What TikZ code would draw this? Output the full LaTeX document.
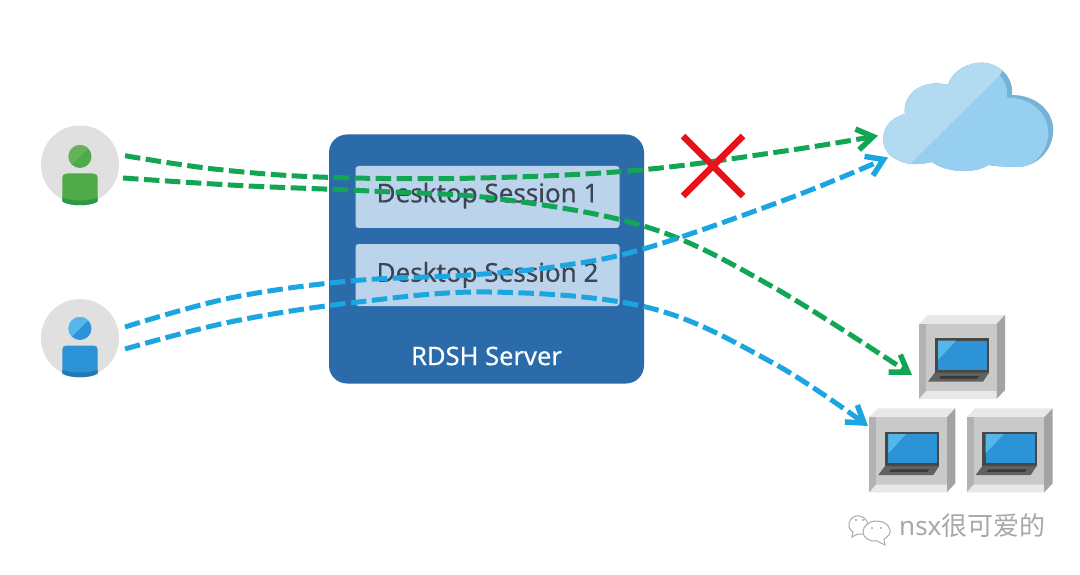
\documentclass[tikz,border=0pt]{standalone}
\usepackage{fontspec}
\setmainfont{Noto Sans}
\newfontfamily\cjkfont{Noto Sans CJK SC}
\newfontfamily\labelfont[FakeBold=0.35]{Noto Sans}
\usetikzlibrary{arrows.meta}
\definecolor{gline}{HTML}{12A554}
\definecolor{bline}{HTML}{1BA6E2}
\definecolor{serverblue}{HTML}{2B6BAA}
\definecolor{sessionblue}{HTML}{BCD3EC}
\definecolor{labeltext}{HTML}{3B4654}
\definecolor{xred}{HTML}{E8121C}
\definecolor{cloudlight}{HTML}{B2DAF0}
\definecolor{cloudmain}{HTML}{96CFEF}
\definecolor{cloudedge}{HTML}{74B2D8}
\definecolor{pcscreen}{HTML}{2B93D6}
\definecolor{pcshine}{HTML}{55B6EA}
\definecolor{wmgray}{HTML}{A8A8A8}
\definecolor{ugreen}{HTML}{4FAA47}
\definecolor{ugreendark}{HTML}{2B9A46}
\definecolor{ugreenlight}{HTML}{64B35A}
\definecolor{ublue}{HTML}{2B93D6}
\definecolor{ubluedark}{HTML}{2578B0}
\definecolor{ubluelight}{HTML}{55B6EA}
\newcommand{\cloudshape}{(883.3,138)
  .. controls (884,125) and (893,117) .. (905,114)
  .. controls (902,95) and (922,78) .. (948,85)
  .. controls (952,70) and (970,62) .. (982,62.7)
  .. controls (1000,63) and (1014,78) .. (1012,95)
  .. controls (1035,95) and (1053,110) .. (1053.3,130)
  .. controls (1053,152) and (1035,168) .. (1015,167)
  .. controls (1005,167) and (995,166) .. (988,165)
  .. controls (980,172) and (950,175) .. (932,162)
  .. controls (920,165) and (905,165) .. (898,160)
  .. controls (888,156) and (883,148) .. (883.3,138) -- cycle}
\tikzset{
  flow/.style={line width=5pt,dash pattern=on 15.5pt off 5.5pt,smooth,tension=0.6,
    -{Straight Barb[length=16pt,width=21pt,line width=5.5pt]}},
  userdisc/.style={circle,fill=black!12,draw=none,minimum size=78pt,inner sep=0pt},
  sessionbox/.style={fill=sessionblue,rounded corners=3pt,minimum width=264pt,minimum height=62pt,inner sep=0pt,
    text=labeltext,font=\fontsize{26}{30}\labelfont},
  pics/pcbox/.style={code={
    \fill[black!9] (0,9) -- (8.5,0) -- (86,0) -- (77.5,9) -- cycle;
    \fill[black!36] (77.5,9) -- (86,0) -- (86,75) -- (77.5,84) -- cycle;
    \fill[black!30] (0,9) rectangle (77.5,84);
    \fill[black!21] (7,9) rectangle (77.5,76);
    \fill[black!9] (0,84) -- (7,76) -- (77.5,76) -- (77.5,84) -- cycle;
    \fill[black!72] (15.7,23.3) rectangle (70,57.7);
    \fill[black!62] (15.7,57.7) -- (70,57.7) -- (64,66.7) -- (9,66.7) -- cycle;
    \fill[black!78] (22,61) -- (60,61) -- (58,63.5) -- (20,63.5) -- cycle;
    \fill[pcscreen] (19,25.7) rectangle (68,55);
    \fill[pcshine] (19,25.7) -- (37,25.7) -- (19,45) -- cycle;
  }},
  pics/person/.style n args={3}{code={
    \begin{scope}
      \clip (-17.7,13) .. controls (-17.7,10.5) and (-16,9) .. (-13,9) -- (13,9)
        .. controls (16,9) and (17.7,10.5) .. (17.7,13) -- (17.7,37)
        .. controls (10,42) and (-10,42) .. (-17.7,37) -- cycle;
      \fill[#1] (-20,5) rectangle (20,45);
      \fill[#3] (-20,32) .. controls (-10,37.5) and (10,37.5) .. (20,32) -- (20,45) -- (-20,45) -- cycle;
    \end{scope}
    \begin{scope}
      \clip (0,-8) circle (11.5);
      \fill[#1] (-12,-20) rectangle (12,4);
      \fill[#2] (-12,-20) -- (12,-20) -- (-12,4) -- cycle;
    \end{scope}
  }},
}
\begin{document}
\begin{tikzpicture}[x=1pt,y=-1pt]
\useasboundingbox (0,0) rectangle (1080,575);
\fill[white] (0,0) rectangle (1080,575);

% users
\node[userdisc] (user1) at (80,164.5) {};
\node[userdisc] (user2) at (80,338) {};
\pic at (80,164.5) {person={ugreen}{ugreenlight}{ugreendark}};
\pic at (80,336.5) {person={ublue}{ubluelight}{ubluedark}};

% server
\node[fill=serverblue,rounded corners=18pt,minimum width=315pt,minimum height=249pt,inner sep=0pt] (server) at (486.5,259) {};
\node[sessionbox] (session1) at (487.5,197) {\raisebox{9pt}{Desktop Session 1}};
\node[sessionbox] (session2) at (487.5,275) {\raisebox{6pt}{Desktop Session 2}};
\node[text=white,inner sep=0pt,font=\fontsize{25.5}{30}\labelfont] (serverlabel) at (486.5,356) {RDSH Server};

% cloud
\fill[cloudedge] \cloudshape;
\begin{scope}
  \clip \cloudshape;
  \fill[cloudmain,shift={(-5,2.5)}] \cloudshape;
  \fill[cloudlight] (870,175) -- (870,50) -- (1012,50) -- (1000,75) -- (911,163) -- (905,175) -- cycle;
\end{scope}
\node[inner sep=0pt,minimum width=170pt,minimum height=110pt] (cloud) at (968,118) {};

% computers
\pic at (919,315) {pcbox};
\pic at (869.3,408.3) {pcbox};
\pic at (966.7,408.3) {pcbox};
\node[inner sep=0pt,minimum width=86pt,minimum height=84pt] (pc1) at (962,357) {};
\node[inner sep=0pt,minimum width=86pt,minimum height=84pt] (pc2) at (912.3,450.3) {};
\node[inner sep=0pt,minimum width=86pt,minimum height=84pt] (pc3) at (1009.7,450.3) {};

% connector ends
\coordinate (g1a) at (125,155.7);
\coordinate (g1c) at (878,135.7);
\coordinate (g2a) at (123,178);
\coordinate (g2c) at (912,375);
\coordinate (b1a) at (125,327);
\coordinate (b1c) at (888,157.5);
\coordinate (b2a) at (125,349);
\coordinate (b2c) at (868,426);

\draw[flow,gline] plot coordinates {(g1a) (216.7,169.3) (326.7,177.3) (480,178) (640,170) (786.7,150.7) (g1c)};
\draw[flow,gline] plot coordinates {(g2a) (243,185.7) (370,191) (500,199) (650,228) (773,287) (g2c)};
\draw[flow,bline] plot coordinates {(b1a) (230,298) (350,281) (470,275) (560,266) (646.7,248) (790,198) (b1c)};
\draw[flow,bline] plot coordinates {(b2a) (230,322) (350,303) (490,292) (650,308) (773,363) (b2c)};

% red cross
\coordinate (x1) at (683,136);
\coordinate (x2) at (743,196);
\coordinate (x3) at (743,136);
\coordinate (x4) at (683,196);
\draw[xred,line width=6.5pt] (x1) -- (x2);
\draw[xred,line width=6.5pt] (x3) -- (x4);

% watermark
\draw[wmgray,line width=1pt,fill=white] (868,524) .. controls (866,516) and (856,513) .. (851,519)
  .. controls (847,524) and (849,530) .. (853,532) -- (852,537) -- (858,534) .. controls (861,534.5) and (864,534) .. (866,533);
\draw[wmgray,line width=1pt,fill=white] (877,521) .. controls (869,521) and (863,526) .. (863,532)
  .. controls (863,538) and (870,542) .. (877,541) -- (885,545) -- (884,539) .. controls (889,536) and (891,533) .. (890,530)
  .. controls (889,525) and (884,521) .. (877,521);
\fill[wmgray] (856,520) circle (1.2) (863,520) circle (1.2) (872,528) circle (1.2) (881,528) circle (1.2);
\node[text=wmgray,inner sep=0pt,anchor=west,font=\fontsize{26}{30}\selectfont] (wm) at (899,526) {nsx{\cjkfont 很可爱的}};
\end{tikzpicture}
\end{document}
